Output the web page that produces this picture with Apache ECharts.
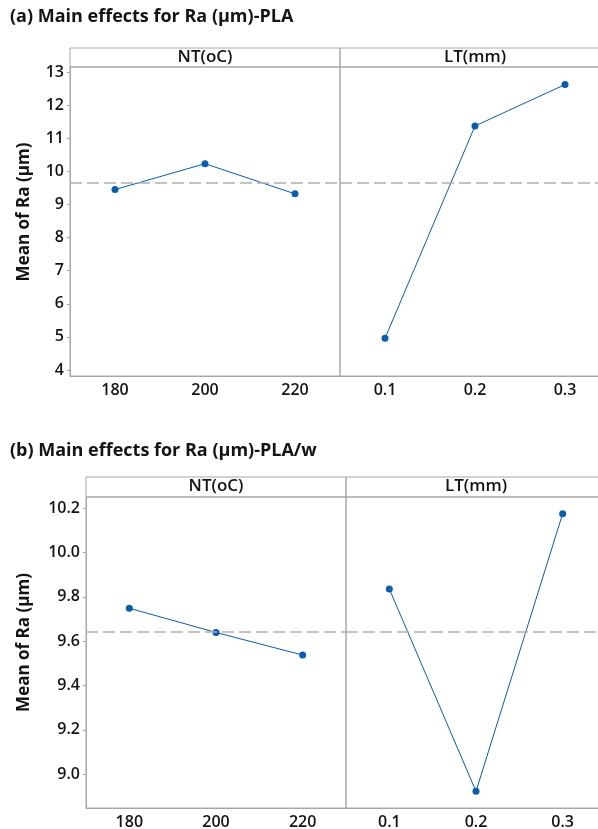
<!DOCTYPE html>
<html>
<head>
<meta charset="utf-8">
<script src="https://cdn.jsdelivr.net/npm/echarts@6/dist/echarts.min.js"></script>
<style>
  html, body { margin: 0; padding: 0; background: #fff; }
  #chart { width: 598px; height: 829px; }
</style>
</head>
<body>
<div id="chart"></div>
<script>
const ntLevels = ["180", "200", "220"];
const ltLevels = ["0.1", "0.2", "0.3"];

// (a) PLA
const plaNT = [9.45, 10.23, 9.32];
const plaLT = [4.96, 11.37, 12.62];
const plaTicks = [4, 5, 6, 7, 8, 9, 10, 11, 12, 13];

// (b) PLA/w
const plawNT = [9.748, 9.639, 9.537];
const plawLT = [9.835, 8.922, 10.175];
const plawTicks = [9.0, 9.2, 9.4, 9.6, 9.8, 10.0, 10.2];

const font = "Open Sans";
const ink = "#141414";
const grey = "#a6a6a6";
const blue = "#0b5cad";

const figures = [
  {
    title: "(a) Main effects for Ra (µm)-PLA", titleTop: 8,
    left: 70, split: 340, right: 610, headTop: 48, headBottom: 67, axisY: 376,
    yMin: 3.82, yMax: 13.15, ticks: plaTicks, dec: 0,
    nt: plaNT, lt: plaLT,
  },
  {
    title: "(b) Main effects for Ra (µm)-PLA/w", titleTop: 442,
    left: 86, split: 346, right: 606, headTop: 477, headBottom: 497, axisY: 808,
    yMin: 8.847, yMax: 10.25, ticks: plawTicks, dec: 1,
    nt: plawNT, lt: plawLT,
  },
];

const grids = [], xAxes = [], yAxes = [], series = [], titles = [], texts = [];

const mean = (arr) => arr.reduce((s, v) => s + v, 0) / arr.length;

figures.forEach((f) => {
  titles.push({
    text: f.title, left: 10, top: f.titleTop, padding: 0,
    textStyle: { fontFamily: font, fontSize: 18, fontWeight: 700, color: ink },
  });
  texts.push({
    type: "text", x: 24, y: (f.headTop + f.axisY) / 2, rotation: Math.PI / 2,
    style: {
      text: "Mean of Ra (µm)", align: "center", verticalAlign: "middle",
      fontFamily: font, fontSize: 17, fontWeight: 700, fill: ink,
    },
  });
  const grand = mean(f.nt.concat(f.lt));
  const panels = [
    { name: "NT(oC)", cats: ntLevels, vals: f.nt, x0: f.left, x1: f.split, first: true },
    { name: "LT(mm)", cats: ltLevels, vals: f.lt, x0: f.split, x1: f.right, first: false },
  ];
  panels.forEach((p) => {
    // header strip
    grids.push({
      show: true, borderColor: grey, borderWidth: 1, backgroundColor: "transparent",
      outerBoundsMode: "none",
      left: p.x0, width: p.x1 - p.x0, top: f.headTop, height: f.headBottom - f.headTop,
    });
    titles.push({
      text: p.name, left: (p.x0 + p.x1) / 2, textAlign: "center",
      top: f.headTop + 0.5, padding: 0,
      textStyle: { fontFamily: font, fontSize: 17, fontWeight: 600, color: ink },
    });
    // plot panel
    const gi = grids.length;
    grids.push({
      show: true, borderColor: grey, borderWidth: 1, backgroundColor: "transparent",
      outerBoundsMode: "none",
      left: p.x0, width: p.x1 - p.x0, top: f.headBottom, height: f.axisY - f.headBottom,
    });
    xAxes.push({
      type: "category", gridIndex: gi, data: p.cats, boundaryGap: true,
      axisLine: { lineStyle: { color: grey } },
      axisTick: { alignWithLabel: true, length: 4, lineStyle: { color: grey } },
      axisLabel: { fontFamily: font, fontSize: 16, fontWeight: 600, color: ink, margin: 6 },
    });
    yAxes.push({
      type: "value", gridIndex: gi, min: f.yMin, max: f.yMax, show: p.first,
      splitLine: { show: false },
      axisLine: { show: true, lineStyle: { color: grey } },
      axisTick: { show: true, length: 3, customValues: f.ticks, lineStyle: { color: grey } },
      axisLabel: {
        customValues: f.ticks, fontFamily: font, fontSize: 16, fontWeight: 600, color: ink, margin: 6,
        formatter: (v) => Number(v).toFixed(f.dec),
      },
    });
    const ai = xAxes.length - 1;
    series.push({
      type: "line", xAxisIndex: ai, yAxisIndex: ai, data: p.vals,
      symbol: "circle", symbolSize: 7, animation: false,
      lineStyle: { color: blue, width: 1 }, itemStyle: { color: blue },
      markLine: {
        silent: true, symbol: "none", label: { show: false },
        lineStyle: { color: "#b0b0b0", type: [12, 5], width: 1.5 },
        data: [{ yAxis: grand }],
      },
    });
  });
});

const chart = echarts.init(document.getElementById("chart"));
chart.setOption({
  backgroundColor: "#fff",
  animation: false,
  title: titles,
  graphic: texts,
  grid: grids,
  xAxis: xAxes,
  yAxis: yAxes,
  series,
});
</script>
</body>
</html>
